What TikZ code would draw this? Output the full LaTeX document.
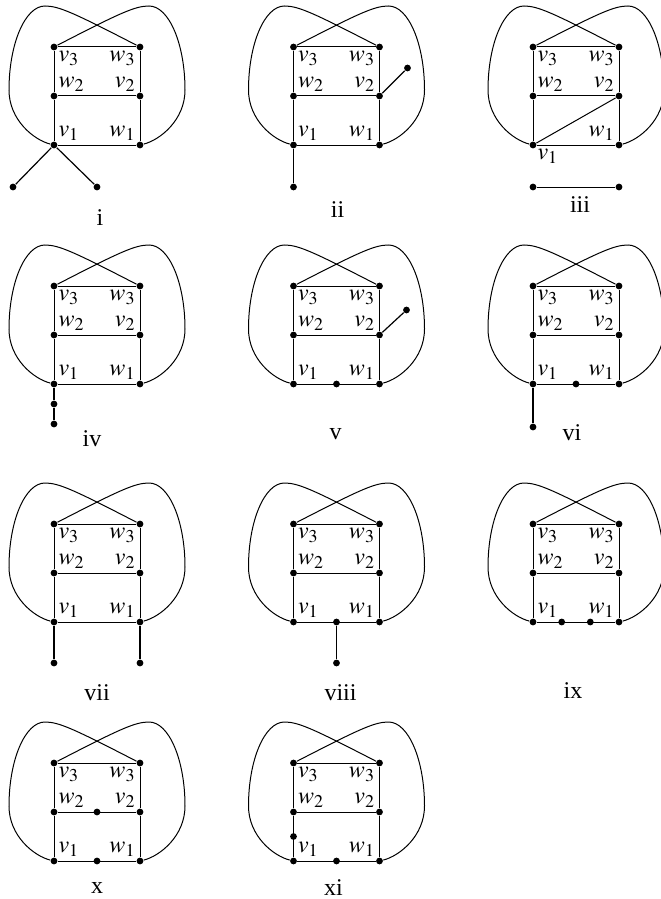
\documentclass[tikz,border=0pt]{standalone}
\usepackage{mathptmx}
\usepackage{fontspec}
\setmainfont{Liberation Serif}

\tikzset{
  dot/.style={circle,fill,inner sep=0pt,minimum size=3.4pt},
  lbl/.style={inner sep=2pt,font=\large},
  panelname/.style={font=\large},
  leaf/.style={line width=0.6pt},
}

% the common part: prism with two crossing loops
\newcommand{\basegraph}{
  \node[dot] (v1) at (0,0) {};
  \node[dot] (w1) at (86,0) {};
  \node[dot] (w2) at (0,49) {};
  \node[dot] (v2) at (86,49) {};
  \node[dot] (v3) at (0,98) {};
  \node[dot] (w3) at (86,98) {};
  \draw (v1) -- (w2) -- (v3) -- (w3) -- (v2) -- (w1) -- (v1);
  \draw (w2) -- (v2);
  \draw (v1) .. controls (-20,5) and (-45,25) .. (-45,55)
    .. controls (-45,101) and (-29,139) .. (-9,139)
    .. controls (5,139) and (20,132) .. (w3);
  \draw (w1) .. controls (106,5) and (131,25) .. (131,55)
    .. controls (131,101) and (115,139) .. (95,139)
    .. controls (81,139) and (66,132) .. (v3);
}

\newcommand{\vwlabels}[1][south west]{
  \node[lbl,anchor=north west] at (v3) {$v_3$};
  \node[lbl,anchor=north east] at (w3) {$w_3$};
  \node[lbl,anchor=south west] at (w2) {$w_2$};
  \node[lbl,anchor=south east] at (v2) {$v_2$};
  \node[lbl,anchor=#1] at (v1) {$v_1$};
  \node[lbl,anchor=south east] at (w1) {$w_1$};
}

\begin{document}
\begin{tikzpicture}[x=0.5pt,y=0.5pt,line width=0.5pt]

\useasboundingbox (0,0) rectangle (660,-899);

% i
\begin{scope}[shift={(54,-145)}]
\basegraph \vwlabels
\node[dot] (a) at (-41,-42) {};
\node[dot] (b) at (43,-42) {};
\draw[leaf] (a) -- (v1) -- (b);
\node[panelname] (t1) at (46,-73) {i};
\end{scope}

% ii
\begin{scope}[shift={(293.5,-145)}]
\basegraph \vwlabels
\node[dot] (a) at (114,77) {};
\node[dot] (b) at (0,-42) {};
\draw[leaf] (v2) -- (a);
\draw[leaf] (v1) -- (b);
\node[panelname] (t2) at (44,-65) {ii};
\end{scope}

% iii
\begin{scope}[shift={(533,-145)}]
\basegraph \vwlabels[north west]
\draw (v1) -- (v2);
\node[dot] (a) at (0,-42) {};
\node[dot] (b) at (86,-42) {};
\draw (a) -- (b);
\node[panelname] (t3) at (47,-60) {iii};
\end{scope}

% iv
\begin{scope}[shift={(54,-384)}]
\basegraph \vwlabels
\node[dot] (a) at (0,-20) {};
\node[dot] (b) at (0,-40) {};
\draw[leaf] (v1) -- (a) -- (b);
\node[panelname] (t4) at (38,-55) {iv};
\end{scope}

% v
\begin{scope}[shift={(293.5,-384)}]
\basegraph \vwlabels
\node[dot] (a) at (113,74) {};
\node[dot] (s) at (43,0) {};
\draw[leaf] (v2) -- (a);
\node[panelname] (t5) at (42,-50) {v};
\end{scope}

% vi
\begin{scope}[shift={(533,-384)}]
\basegraph \vwlabels
\node[dot] (a) at (0,-43) {};
\node[dot] (s) at (43,0) {};
\draw[leaf] (v1) -- (a);
\node[panelname] (t6) at (39,-49) {vi};
\end{scope}

% vii
\begin{scope}[shift={(54,-622)}]
\basegraph \vwlabels
\node[dot] (a) at (0,-41) {};
\node[dot] (b) at (86,-41) {};
\draw[leaf] (v1) -- (a);
\draw[leaf] (w1) -- (b);
\node[panelname] (t7) at (43,-71) {vii};
\end{scope}

% viii
\begin{scope}[shift={(293.5,-622)}]
\basegraph \vwlabels
\node[dot] (s) at (43,0) {};
\node[dot] (a) at (43,-41) {};
\draw[leaf] (s) -- (a);
\node[panelname] (t8) at (47,-71) {viii};
\end{scope}

% ix
\begin{scope}[shift={(533,-622)}]
\basegraph \vwlabels
\node[dot] (s) at (28.7,0) {};
\node[dot] (r) at (57.3,0) {};
\node[panelname] (t9) at (40,-69) {ix};
\end{scope}

% x
\begin{scope}[shift={(54,-861)}]
\basegraph \vwlabels
\node[dot] (s) at (43,0) {};
\node[dot] (r) at (43,49) {};
\node[panelname] (t10) at (43,-27) {x};
\end{scope}

% xi
\begin{scope}[shift={(293.5,-861)}]
\basegraph \vwlabels
\node[dot] (s) at (43,0) {};
\node[dot] (r) at (0,24.5) {};
\node[panelname] (t11) at (40,-27) {xi};
\end{scope}

\end{tikzpicture}
\end{document}
